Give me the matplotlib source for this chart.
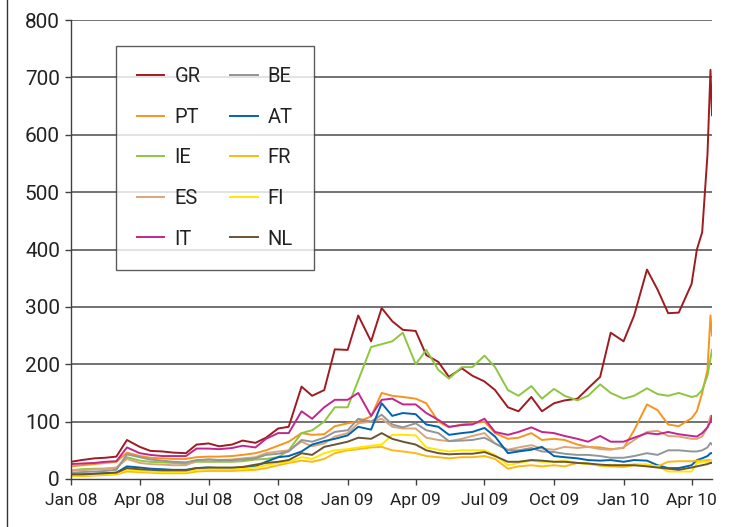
import pandas as pd
import numpy as np
import matplotlib
matplotlib.use("Agg")
import matplotlib.pyplot as plt
import matplotlib.dates as mdates
from matplotlib.lines import Line2D

plt.rcParams["font.family"] = ["Roboto", "DejaVu Sans"]

# ---------------------------------------------------------------------
# Data (semi-monthly readings, spreads in basis points)
dates = [f"{y}-{m:02d}-{d:02d}" for y in (2008, 2009) for m in range(1, 13) for d in (1, 15)]
dates += [f"2010-{m:02d}-{d:02d}" for m in (1, 2, 3) for d in (1, 15)]
dates += ["2010-04-01", "2010-04-08", "2010-04-15", "2010-04-22", "2010-04-26", "2010-04-28"]
dates = pd.to_datetime(dates)

gr = [30, 33, 36, 37, 39, 68, 56, 49, 48, 46, 45, 60, 62, 57, 60, 67, 63, 72, 88, 91, 161, 145, 155, 226,
      225, 285, 240, 298, 275, 260, 258, 216, 204, 178, 193, 180, 170, 155, 125, 118, 143, 118, 132, 137, 140, 158, 178, 255,
      240, 285, 365, 330, 289, 290, 340, 400, 430, 565, 713, 634]
pt = [22, 24, 26, 28, 30, 46, 40, 37, 36, 35, 35, 38, 39, 39, 40, 42, 45, 50, 58, 65, 80, 77, 78, 92,
      97, 100, 109, 150, 145, 143, 140, 132, 100, 90, 95, 97, 100, 80, 70, 72, 80, 68, 70, 68, 60, 56, 55, 52,
      54, 85, 130, 120, 95, 92, 106, 118, 150, 190, 285, 250]
ie = [15, 17, 18, 18, 19, 38, 32, 30, 29, 28, 26, 30, 30, 30, 30, 31, 34, 35, 38, 50, 80, 85, 100, 125,
      125, 172, 230, 235, 240, 255, 200, 225, 190, 175, 195, 195, 215, 195, 155, 145, 162, 140, 157, 145, 137, 145, 165, 150,
      140, 145, 158, 148, 145, 150, 143, 145, 155, 180, 210, 225]
es = [14, 15, 17, 18, 20, 35, 28, 26, 25, 24, 24, 32, 34, 33, 34, 36, 38, 45, 48, 50, 65, 57, 62, 74,
      80, 97, 100, 105, 91, 88, 88, 72, 68, 66, 70, 75, 80, 62, 51, 55, 59, 53, 51, 56, 54, 56, 52, 51,
      55, 68, 82, 84, 75, 74, 70, 70, 74, 90, 110, 103]
it = [26, 27, 28, 30, 31, 55, 45, 42, 40, 40, 40, 53, 53, 52, 54, 58, 55, 70, 80, 80, 118, 105, 125, 138,
      138, 150, 110, 138, 140, 130, 130, 115, 103, 91, 94, 95, 105, 82, 77, 82, 90, 82, 80, 75, 70, 65, 75, 65,
      65, 72, 80, 78, 82, 78, 75, 74, 80, 90, 100, 110]
be = [10, 12, 13, 14, 16, 43, 38, 34, 32, 30, 29, 33, 34, 33, 33, 34, 36, 42, 44, 48, 68, 65, 72, 82,
      85, 105, 100, 112, 95, 90, 97, 85, 80, 66, 67, 68, 72, 62, 50, 50, 54, 48, 47, 44, 42, 42, 40, 37,
      37, 40, 45, 42, 50, 50, 48, 48, 50, 55, 63, 60]
at = [7, 8, 9, 10, 11, 22, 20, 18, 17, 16, 16, 19, 20, 19, 19, 20, 22, 30, 38, 40, 48, 60, 66, 70,
      76, 91, 86, 132, 110, 115, 113, 95, 91, 77, 80, 82, 89, 74, 45, 48, 51, 56, 40, 38, 36, 33, 32, 33,
      30, 33, 32, 24, 19, 19, 24, 33, 36, 40, 45, 45]
fr = [5, 5, 6, 7, 8, 13, 12, 11, 10, 10, 10, 13, 14, 14, 14, 15, 16, 19, 24, 28, 32, 30, 35, 45,
      50, 52, 55, 56, 50, 48, 45, 40, 38, 36, 38, 38, 40, 35, 18, 22, 24, 22, 24, 22, 28, 27, 23, 22,
      21, 24, 25, 22, 30, 31, 31, 32, 32, 33, 33, 32]
fi = [6, 6, 7, 8, 9, 16, 14, 13, 12, 12, 12, 16, 17, 17, 17, 18, 20, 24, 28, 30, 38, 35, 45, 50,
      52, 55, 58, 60, 77, 77, 76, 55, 51, 48, 50, 50, 50, 42, 24, 28, 32, 30, 30, 32, 28, 26, 24, 25,
      24, 26, 25, 22, 13, 13, 13, 28, 30, 30, 31, 30]
nl = [8, 8, 9, 10, 11, 19, 17, 16, 15, 15, 15, 19, 20, 20, 20, 21, 25, 28, 30, 33, 45, 42, 56, 60,
      65, 72, 70, 80, 70, 65, 60, 50, 45, 43, 44, 44, 47, 40, 30, 30, 33, 32, 30, 30, 28, 27, 25, 24,
      24, 24, 22, 20, 18, 16, 20, 22, 24, 26, 28, 28]

labels = ["GR", "PT", "IE", "ES", "IT", "BE", "AT", "FR", "FI", "NL"]
series = [gr, pt, ie, es, it, be, at, fr, fi, nl]
colors = ["#9E1B20", "#F7941D", "#8DC63F", "#D9A679", "#C2268E",
          "#939598", "#0063B0", "#FDB913", "#FFE800", "#6B5434"]

y_ticks = [0, 100, 200, 300, 400, 500, 600, 700, 800]

# ---------------------------------------------------------------------
fig = plt.figure(figsize=(7.43, 5.27), dpi=100)
ax = fig.add_axes([71 / 743, 1 - 479 / 527, 641 / 743, 459 / 527])

for y in y_ticks[1:]:
    ax.axhline(y, color="#5a5a5a", lw=1.2, zorder=1)

for lab, vals, col in zip(labels, series, colors):
    ax.plot(dates, vals, color=col, lw=1.4, label=lab, zorder=2)

ax.set_ylim(0, 800)
ax.set_yticks(y_ticks)
ax.set_xlim(pd.Timestamp("2008-01-01"), pd.Timestamp("2010-04-28"))
ax.xaxis.set_major_locator(mdates.MonthLocator(bymonth=[1, 4, 7, 10]))
ax.xaxis.set_major_formatter(mdates.DateFormatter("%b %y"))

for s in ["top", "right"]:
    ax.spines[s].set_visible(False)
for s in ["left", "bottom"]:
    ax.spines[s].set_color("#404040")
    ax.spines[s].set_linewidth(1.0)

ax.tick_params(axis="y", direction="out", length=4, width=1, color="#404040",
               labelsize=15, labelcolor="#222222", pad=4)
ax.tick_params(axis="x", direction="out", length=4, width=1, color="#404040",
               labelsize=12.5, labelcolor="#222222", pad=6)

leg = ax.legend(loc="upper left", bbox_to_anchor=(0.070, 0.943), borderaxespad=0,
                ncol=2, fontsize=14.5, frameon=True, fancybox=False,
                handlelength=1.35, handletextpad=0.5, columnspacing=1.5,
                labelspacing=1.07, borderpad=1.05)
leg.get_frame().set_edgecolor("#333333")
leg.get_frame().set_linewidth(1.0)
for t in leg.get_texts():
    t.set_color("#222222")

# left border line of the figure
fig.add_artist(Line2D([7 / 743, 7 / 743], [0, 1], color="#333333", lw=1.0))

plt.savefig("out.png", dpi=100)
plt.close()
